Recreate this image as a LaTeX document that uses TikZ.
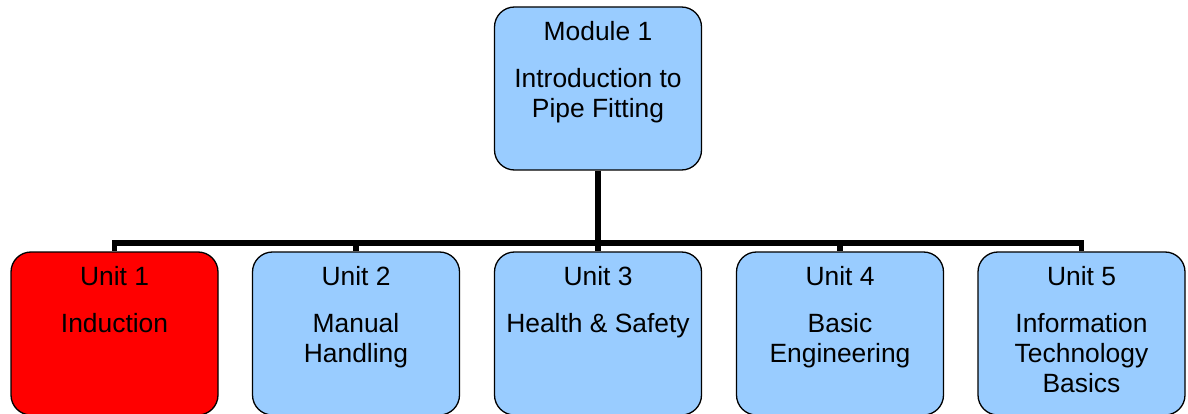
\documentclass[tikz,border=0pt]{standalone}
\usepackage{fontspec}
\setmainfont{Liberation Sans}
\definecolor{boxblue}{HTML}{99CCFF}
\definecolor{boxred}{HTML}{FF0000}
\tikzset{
  box/.style={draw=black, line width=1.3pt, rounded corners=20pt, fill=boxblue,
    minimum width=207pt, minimum height=163pt, inner sep=0pt},
  redbox/.style={box, fill=boxred},
  lbl/.style={anchor=north, align=center, inner sep=0pt,
    font=\fontsize{26.4}{30}\selectfont},
  conn/.style={draw=black, line width=5.5pt}
}
\begin{document}
\begin{tikzpicture}[x=1pt,y=-1pt]
\useasboundingbox (0,0) rectangle (1188,414);
\node[box] (m) at (598,88.5) {};
\node[redbox] (u1) at (114.5,333.5) {};
\node[box] (u2) at (356,333.5) {};
\node[box] (u3) at (598,333.5) {};
\node[box] (u4) at (840,333.5) {};
\node[box] (u5) at (1081.5,333.5) {};
\coordinate (j) at (598,243);
\draw[conn] (m.south) -- (j);
\foreach \u in {u1,u2,u3,u4,u5}{\draw[conn] (j) -| (\u.north);}
\node[lbl] (tm) at ([yshift=-15pt]m.north) {Module 1\\[17pt]Introduction to\\Pipe Fitting};
\node[lbl] (t1) at ([yshift=-15pt]u1.north) {Unit 1\\[17pt]Induction};
\node[lbl] (t2) at ([yshift=-15pt]u2.north) {Unit 2\\[17pt]Manual\\Handling};
\node[lbl] (t3) at ([yshift=-15pt]u3.north) {Unit 3\\[17pt]Health \& Safety};
\node[lbl] (t4) at ([yshift=-15pt]u4.north) {Unit 4\\[17pt]Basic\\Engineering};
\node[lbl] (t5) at ([yshift=-15pt]u5.north) {Unit 5\\[17pt]Information\\Technology\\Basics};
\end{tikzpicture}
\end{document}
